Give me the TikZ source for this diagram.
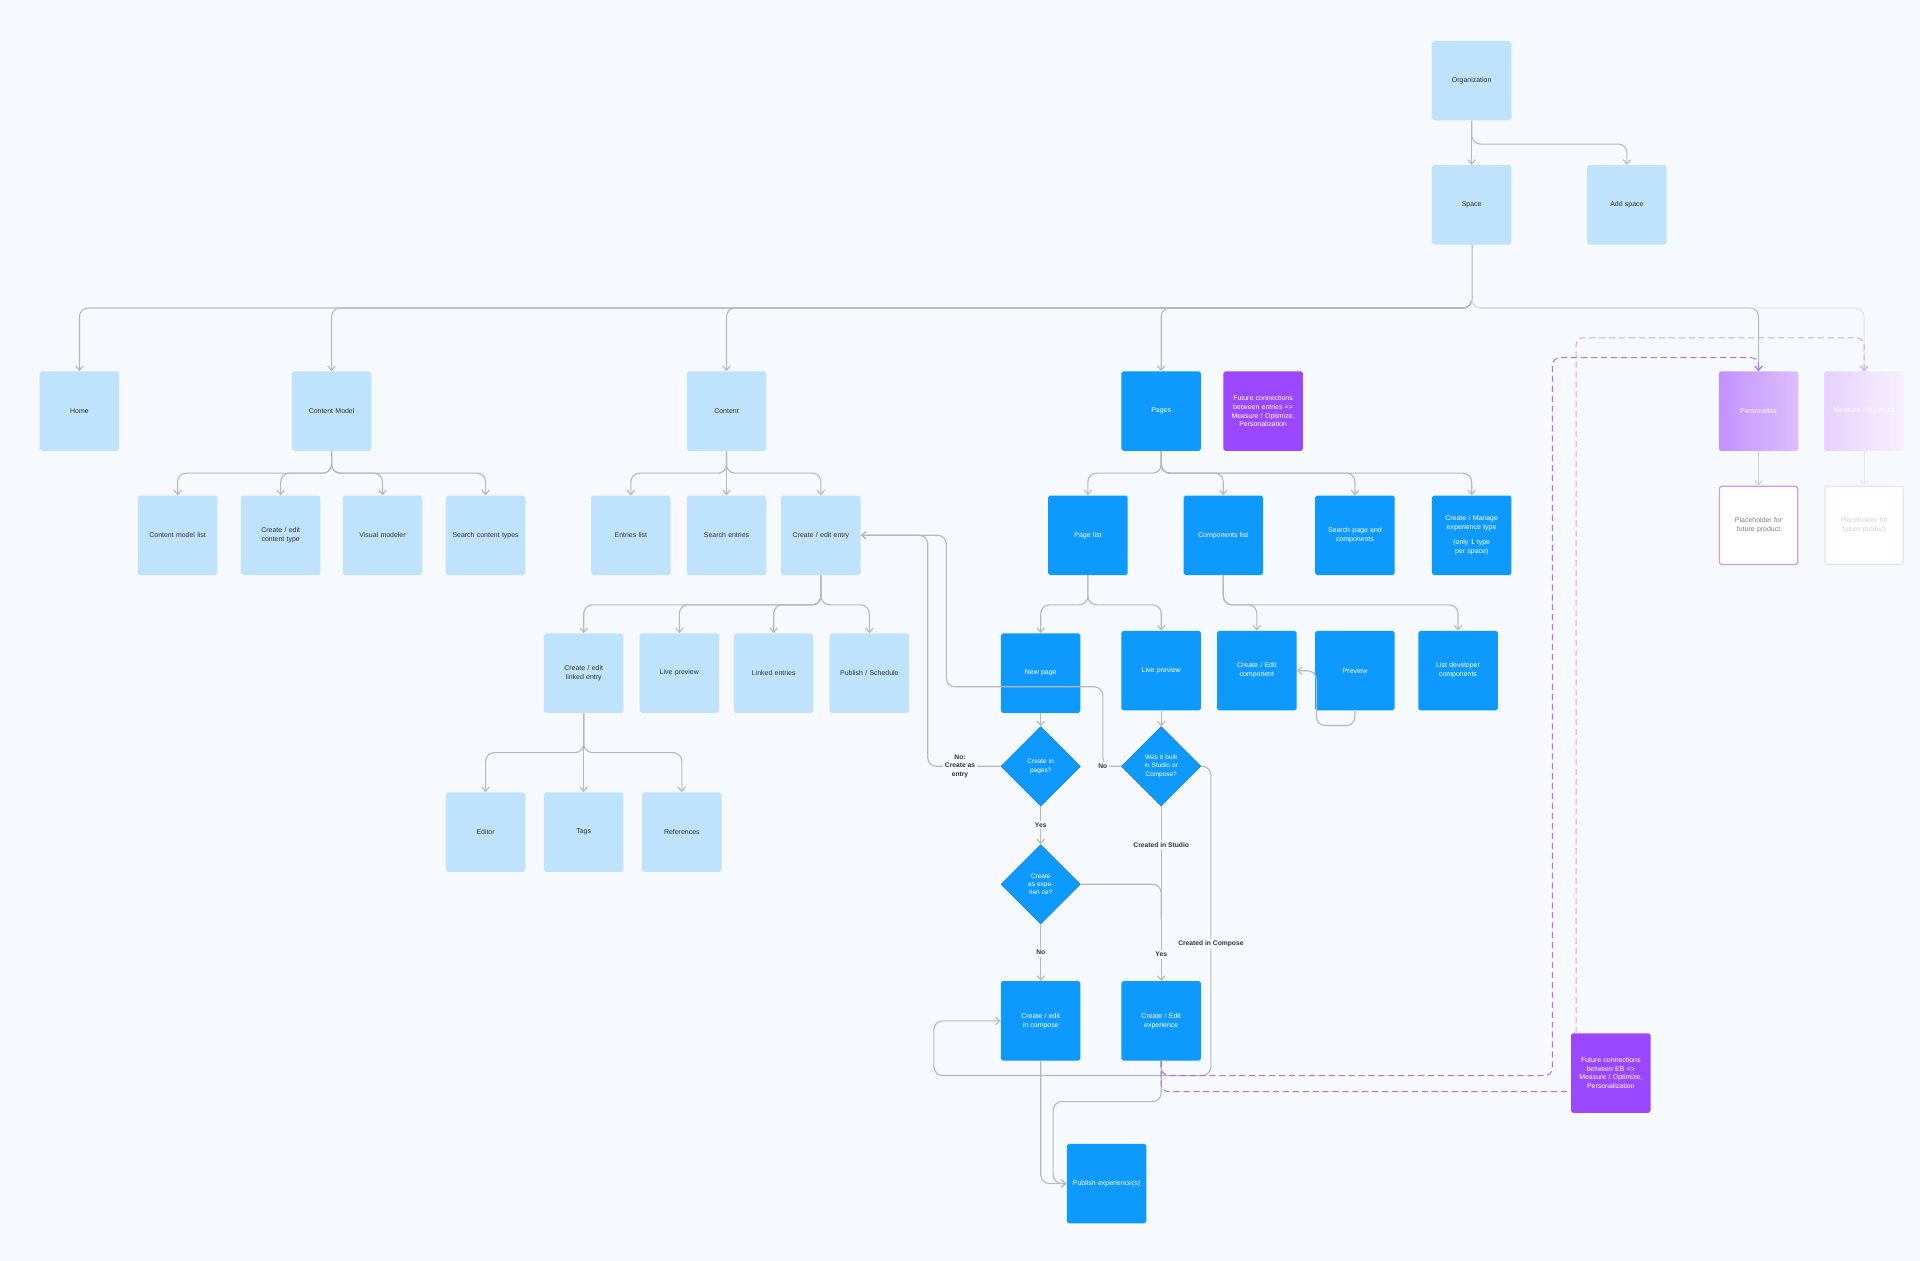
\documentclass[tikz,border=0pt]{standalone}
\usepackage{fontspec}
\setmainfont{Liberation Sans}
\usetikzlibrary{shapes.geometric,arrows.meta}
\definecolor{bg}{HTML}{F6FAFE}
\definecolor{lb}{HTML}{BFE3FD}
\definecolor{db}{HTML}{0E99FF}
\definecolor{pu}{HTML}{9B47FF}
\definecolor{ln}{HTML}{B8B8B8}
\definecolor{tx}{HTML}{333333}
\tikzset{
 box/.style={rectangle,rounded corners=1.5pt,minimum width=64pt,minimum height=64pt,inner sep=1pt,text width=56pt,align=center,font=\fontsize{5.6}{7.2}\selectfont},
 lbox/.style={box,fill=lb,text=tx},
 dbox/.style={box,fill=db,text=white},
 pbox/.style={box,fill=pu,text=white},
 dia/.style={diamond,fill=db,draw=db!80!black,line width=0.4pt,minimum width=64pt,minimum height=64pt,inner sep=0pt,text width=30pt,align=center,text=white,font=\fontsize{5.2}{6.6}\selectfont},
 conn/.style={draw=ln,line width=0.9pt,rounded corners=7pt,-{Straight Barb[length=3.5pt,width=6pt]}},
 plain/.style={draw=ln,line width=0.9pt,rounded corners=7pt},
 pdash/.style={draw=pu!80,line width=0.8pt,dash pattern=on 5pt off 3pt,rounded corners=6pt},
 lab/.style={fill=bg,inner sep=1.5pt,font=\bfseries\fontsize{5.4}{6.6}\selectfont,text=tx,align=center},
}
\begin{document}
\begin{tikzpicture}[x=1pt,y=-1pt]
\fill[bg] (0,0) rectangle (1546,1015);
\useasboundingbox (0,0) rectangle (1546,1015);
% top
\node[lbox] (org) at (1185,65) {Organization};
\node[lbox] (space) at (1185,165) {Space};
\node[lbox] (add) at (1310,165) {Add space};
% level 1
\node[lbox] (home) at (64,331) {Home};
\node[lbox] (cm) at (267,331) {Content Model};
\node[lbox] (content) at (585,331) {Content};
\node[dbox] (pages) at (935,331) {Pages};
\node[pbox] (fut1) at (1017,331) {Future connections between entries \textless{}\textgreater{} Measure / Optimize, Personalization};
\node[box,left color=pu!60,right color=pu!35,text=white] (pers) at (1416,331) {Personalize};
\node[box,left color=pu!25,right color=pu!8,text=white] (meas) at (1501,331) {Measure / Optimize};
% level 2
\node[lbox] (cml) at (143,431) {Content model list};
\node[lbox] (cect) at (226,431) {Create / edit content type};
\node[lbox] (vm) at (308,431) {Visual modeler};
\node[lbox] (sct) at (391,431) {Search content types};
\node[lbox] (el) at (508,431) {Entries list};
\node[lbox] (se) at (585,431) {Search entries};
\node[lbox] (cee) at (661,431) {Create / edit entry};
\node[dbox] (pl) at (876,431) {Page list};
\node[dbox] (cl) at (985,431) {Components list};
\node[dbox] (spc) at (1091,431) {Search page and components};
\node[dbox] (cmet) at (1185,431) {Create / Manage experience type\\[5pt](only 1 type per space)};
\node[box,fill=white,draw=pu!55,line width=1pt,text=gray,minimum width=63pt,minimum height=63pt] (ph1) at (1416,423) {Placeholder for future product};
\node[box,fill=white,draw=pu!18,line width=1pt,text=gray!35,minimum width=63pt,minimum height=63pt] (ph2) at (1501,423) {Placeholder for future product};
% level 3
\node[lbox] (cele) at (470,542) {Create / edit linked entry};
\node[lbox] (lp) at (547,542) {Live preview};
\node[lbox] (le) at (623,542) {Linked entries};
\node[lbox] (ps) at (700,542) {Publish / Schedule};
\node[lbox] (ed) at (391,670) {Editor};
\node[lbox] (tags) at (470,670) {Tags};
\node[lbox] (refs) at (549,670) {References};
% pages flow
\node[dbox] (np) at (838,542) {New page};
\node[dbox] (lpv) at (935,540) {Live preview};
\node[dbox] (cec) at (1012,540) {Create / Edit component};
\node[dbox] (prev) at (1091,540) {Preview};
\node[dbox] (ldc) at (1174,540) {List developer components};
\node[dia] (cip) at (838,617) {Create in pages?};
\node[dia] (wib) at (935,617) {Was it built in Studio or Compose?};
\node[dia] (cae) at (838,712) {Create as experien ce?};
\node[dbox] (cec2) at (838,822) {Create / edit in compose};
\node[dbox] (cee2) at (935,822) {Create / Edit experience};
\node[dbox] (pub) at (891,953) {Publish experience(s)};
\node[pbox] (fut2) at (1297,864) {Future connections between EB \textless{}\textgreater{} Measure / Optimize, Personalization};
% bus coordinates
\coordinate (b0) at (0,116);
\coordinate (b1) at (0,248);
\coordinate (b2) at (0,381);
\coordinate (b3) at (0,487);
\coordinate (b4) at (0,606);
\coordinate (d1) at (0,879);
\coordinate (d2) at (1269,832);
% connectors
\draw[conn] (org) -- (space);
\draw[conn] (org.south) |- (add.north |- b0) -- (add.north);
\foreach \n in {home,cm,content,pages,pers}{\draw[conn] (space.south) |- (\n.north |- b1) -- (\n.north);}
\draw[conn,draw=ln!40] (space.south) |- (meas.north |- b1) -- (meas.north);
\foreach \n in {cml,cect,vm,sct}{\draw[conn] (cm.south) |- (\n.north |- b2) -- (\n.north);}
\foreach \n in {el,se,cee}{\draw[conn] (content.south) |- (\n.north |- b2) -- (\n.north);}
\foreach \n in {pl,cl,spc,cmet}{\draw[conn] (pages.south) |- (\n.north |- b2) -- (\n.north);}
\foreach \n in {cele,lp,le,ps}{\draw[conn] (cee.south) |- (\n.north |- b3) -- (\n.north);}
\foreach \n in {ed,tags,refs}{\draw[conn] (cele.south) |- (\n.north |- b4) -- (\n.north);}
\foreach \n in {np,lpv}{\draw[conn] (pl.south) |- (\n.north |- b3) -- (\n.north);}
\foreach \n in {cec,ldc}{\draw[conn] (cl.south) |- (\n.north |- b3) -- (\n.north);}
\draw[conn,draw=ln!60] (pers) -- (ph1);
\draw[conn,draw=ln!30] (meas) -- (ph2);
\draw[conn] (prev.south) -- ++(0,12) -| ++(-31,-44) -- (cec.east);
\draw[conn] (np) -- (cip);
\draw[conn] (lpv) -- (wib);
\draw[conn] (cip.west) -| (747,431) -- (cee.east);
\node[lab] at (773,617) {No:\\Create as\\entry};
\draw[conn] (wib.west) -| (888,553) -| (762,431) -- (cee.east);
\node[lab] at (888,617) {No};
\draw[conn] (cip) -- node[lab]{Yes} (cae);
\draw[conn] (cae) -- node[lab]{No} (cec2);
\draw[plain] (cae.east) -| (935,740);
\draw[conn] (wib) -- node[lab,pos=0.22]{Created in Studio} node[lab,pos=0.85]{Yes} (cee2);
\draw[conn] (wib.east) -| (975,866) -| (752,822) -- (cec2.west);
\node[lab] at (975,760) {Created in Compose};
\draw[conn] (cec2.south) |- (pub.west);
\draw[conn] (cee2.south) |- (848,887) |- (pub.west);
% purple dashed
\draw[pdash,-{Straight Barb[length=3.5pt,width=6pt]}] (cee2.south) |- (1250,866) |- (1416,288) -- (pers.north);
\draw[pdash] (cee2.south) |- (fut2.west |- d1);
\draw[pdash,draw=pu!50,-{Straight Barb[length=3.5pt,width=6pt]}] (d2) |- (1501,272) -- (meas.north);
\end{tikzpicture}
\end{document}
